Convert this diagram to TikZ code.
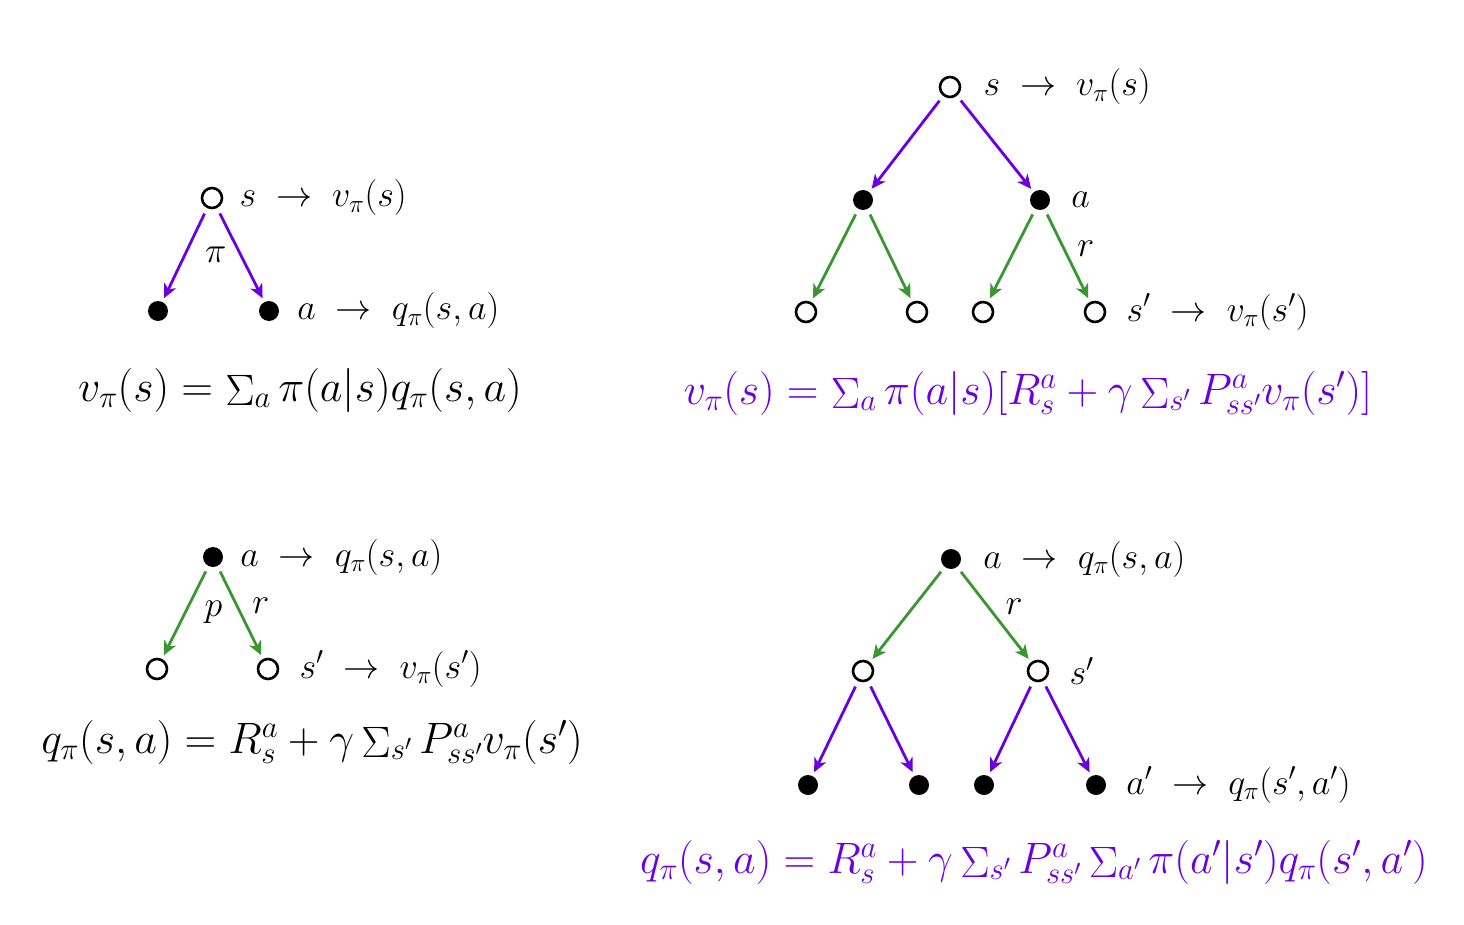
\documentclass[tikz,border=0pt]{standalone}
\usepackage{fix-cm}
\usepackage{amsmath}
\usetikzlibrary{arrows.meta,positioning}

\definecolor{pviolet}{RGB}{106,0,224}
\definecolor{pvert}{RGB}{58,150,48}
\newcommand{\somme}{\mathop{\Sigma}\nolimits}

\tikzset{
  etat/.style={circle, draw, line width=2.6pt, minimum size=20pt, inner sep=0pt},
  action/.style={circle, fill=black, minimum size=20pt, inner sep=0pt},
  fl/.style={line width=2.8pt, -{Stealth[length=14pt,width=13pt,inset=4pt]}, shorten <=6pt, shorten >=4pt},
  lab/.style={font=\fontsize{36}{42}\selectfont, text=black, inner sep=0pt},
  eq/.style={font=\fontsize{44}{50}\selectfont, inner sep=0pt},
  eqv/.style={eq, text=pviolet},
}

\begin{document}
\begin{tikzpicture}[x=1pt, y=-1pt]
 \useasboundingbox (0,0) rectangle (1464,925);

	% v en fonction de q
 \node[etat] (A0) at (212,198) {};
 \node[action] (A1) at (158,311) {};
 \node[action] (A2) at (269,311) {};
 \node[lab, right=16pt of A0] (A0l) {$s \;\rightarrow\; v_\pi(s)$};
 \node[lab, right=18pt of A2] (A2l) {$a \;\rightarrow\; q_\pi(s,a)$};

 \draw[fl, pviolet] (A0)--(A1) node[lab, midway, right=19pt] (Api) {$\pi$};
 \draw[fl, pviolet] (A0)--(A2);

 \node[eq] (Aeq) at (300,390) {$v_\pi(s) = \somme_a \pi(a|s) q_\pi(s,a)$};

	% q en fonction de v
 \node[action] (C0) at (213,557) {};
 \node[etat] (C1) at (157,669) {};
 \node[etat] (C2) at (268,669) {};
 \node[lab, right=17pt of C0] (C0l) {$a \;\rightarrow\; q_\pi(s,a)$};
 \node[lab, right=20pt of C2] (C2l) {$s' \;\rightarrow\; v_\pi(s')$};

 \draw[fl, pvert] (C0)--(C1) node[lab, midway, right=18pt] (Cp) {$p$};
 \draw[fl, pvert] (C0)--(C2) node[lab, pos=0.43, right=14pt] (Cr) {$r$};

 \node[eq] (Ceq) at (312,742) {$q_\pi(s,a) = R^a_s + \gamma \somme_{s'} P^a_{ss'} v_\pi(s')$};

	% v en fonction de v
 \node[etat] (B0) at (950,87) {};
 \node[action] (B1) at (863,200) {};
 \node[action] (B2) at (1040,200) {};
 \node[etat] (B11) at (806,312) {};
 \node[etat] (B12) at (917,312) {};
 \node[etat] (B21) at (983,312) {};
 \node[etat] (B22) at (1095,312) {};
 \node[lab, right=22pt of B0] (B0l) {$s \;\rightarrow\; v_\pi(s)$};
 \node[lab, right=21pt of B2] (B2l) {$a$};
 \node[lab, right=20pt of B22] (B22l) {$s' \;\rightarrow\; v_\pi(s')$};

 \draw[fl, pviolet] (B0)--(B1);
 \draw[fl, pviolet] (B0)--(B2);
 \draw[fl, pvert] (B1)--(B11);
 \draw[fl, pvert] (B1)--(B12);
 \draw[fl, pvert] (B2)--(B21);
 \draw[fl, pvert] (B2)--(B22) node[lab, pos=0.43, right=12pt] (Br) {$r$};

 \node[eqv] (Beq) at (1028,393) {$v_\pi(s) = \somme_a \pi(a|s)\lbrack R^a_s + \gamma \somme_{s'} P^a_{ss'} v_\pi(s')\rbrack$};

	% q en fonction de q
 \node[action] (D0) at (951,559) {};
 \node[etat] (D1) at (863,671) {};
 \node[etat] (D2) at (1038,671) {};
 \node[action] (D11) at (808,785) {};
 \node[action] (D12) at (919,785) {};
 \node[action] (D21) at (984,785) {};
 \node[action] (D22) at (1096,785) {};
 \node[lab, right=22pt of D0] (D0l) {$a \;\rightarrow\; q_\pi(s,a)$};
 \node[lab, right=20pt of D2] (D2l) {$s'$};
 \node[lab, right=20pt of D22] (D22l) {$a' \;\rightarrow\; q_\pi(s',a')$};

 \draw[fl, pvert] (D0)--(D1);
 \draw[fl, pvert] (D0)--(D2) node[lab, pos=0.42, right=16pt] (Dr) {$r$};
 \draw[fl, pviolet] (D1)--(D11);
 \draw[fl, pviolet] (D1)--(D12);
 \draw[fl, pviolet] (D2)--(D21);
 \draw[fl, pviolet] (D2)--(D22);

 \node[eqv] (Deq) at (1034,862) {$q_\pi(s,a) = R^a_s + \gamma \somme_{s'} P^a_{ss'} \somme_{a'} \pi(a'|s') q_\pi(s',a')$};

\end{tikzpicture}
\end{document}
